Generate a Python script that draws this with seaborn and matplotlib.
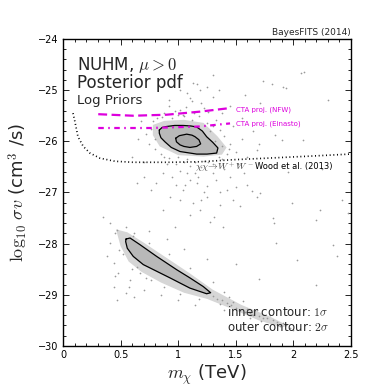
import matplotlib
matplotlib.use("Agg")
import matplotlib.pyplot as plt
from matplotlib.ticker import MultipleLocator
import pandas as pd
import seaborn as sns

# ---- data (x = m_chi in TeV, y = log10 sigma v) ----

# 2 sigma (outer) and 1 sigma (inner) contours, upper island
outer_up = [(0.836, -25.78), (0.860, -25.73), (0.900, -25.71), (0.970, -25.69),
            (1.042, -25.69), (1.110, -25.70), (1.161, -25.72), (1.210, -25.80),
            (1.247, -25.91), (1.300, -26.02), (1.345, -26.13), (1.334, -26.23),
            (1.250, -26.25), (1.161, -26.25), (1.016, -26.20), (0.940, -26.12),
            (0.885, -26.01), (0.850, -25.93), (0.836, -25.84)]
inner_up = [(0.978, -25.94), (1.010, -25.89), (1.074, -25.86), (1.120, -25.88),
            (1.146, -25.91), (1.180, -25.97), (1.195, -26.05), (1.160, -26.10),
            (1.102, -26.12), (1.050, -26.10), (1.016, -26.07), (0.985, -26.01)]

# 2 sigma contour, lower island
outer_low = [(0.547, -27.91), (0.582, -27.89), (0.668, -28.02), (0.813, -28.25),
             (0.987, -28.51), (1.102, -28.67), (1.218, -28.84), (1.282, -28.96),
             (1.247, -28.98), (1.102, -28.87), (0.929, -28.67), (0.813, -28.54),
             (0.697, -28.41), (0.610, -28.25), (0.558, -28.09), (0.544, -27.96)]

# dense parts of the scan cloud
dense_up = [(0.78, -25.68), (0.88, -25.60), (1.05, -25.58), (1.22, -25.64),
            (1.34, -25.90), (1.42, -26.12), (1.38, -26.26), (1.22, -26.30),
            (1.00, -26.27), (0.84, -26.10), (0.78, -25.88)]
dense_low = [(0.46, -27.72), (0.56, -27.78), (0.70, -27.98), (0.90, -28.28),
             (1.10, -28.58), (1.30, -28.90), (1.55, -29.20), (1.80, -29.43),
             (1.95, -29.60), (1.90, -29.64), (1.70, -29.50), (1.45, -29.26),
             (1.25, -29.08), (1.05, -28.96), (0.85, -28.76), (0.68, -28.55),
             (0.57, -28.35), (0.50, -28.05)]

# sparse scan points
upper_pts = [(1.16, -24.87), (1.25, -24.93), (1.35, -25.00), (1.30, -25.13), (1.10, -25.15),
             (1.20, -25.26), (1.07, -25.32), (1.02, -25.39), (1.26, -25.42), (1.04, -25.48),
             (2.09, -24.64), (1.94, -24.96), (1.30, -24.70), (1.13, -24.86), (1.02, -25.00),
             (1.19, -25.00), (2.07, -24.66), (1.74, -24.83), (1.81, -24.87), (1.91, -24.93),
             (1.71, -25.25), (1.84, -25.88), (1.90, -25.97), (2.08, -25.97), (1.68, -26.17),
             (1.64, -26.98), (1.71, -27.01), (1.99, -27.21), (2.42, -27.14), (1.83, -27.60),
             (2.20, -27.53), (2.47, -27.40), (0.64, -26.82), (0.70, -26.69), (0.87, -26.62),
             (1.02, -26.59), (1.10, -26.75), (1.04, -26.95), (1.16, -26.82), (1.25, -26.88),
             (1.33, -26.75), (1.45, -26.69), (1.57, -26.62), (1.02, -27.14), (1.13, -27.21),
             (1.25, -27.08), (1.36, -27.24), (1.48, -27.14), (1.31, -27.47), (1.28, -27.57),
             (1.54, -27.27), (1.68, -27.08), (0.93, -27.08), (0.81, -26.82), (0.76, -26.95),
             (0.87, -27.34), (1.19, -27.34), (1.39, -27.67), (0.97, -27.67), (0.72, -25.85),
             (0.75, -26.05), (0.78, -25.60), (0.80, -26.15), (0.82, -25.55), (0.85, -26.25),
             (0.88, -25.45), (0.92, -26.32), (0.95, -25.55), (0.97, -25.40), (1.00, -26.30),
             (1.05, -25.50), (1.08, -26.35), (1.12, -25.58), (1.15, -26.40), (1.18, -25.50),
             (1.22, -26.38), (1.25, -25.65), (1.28, -25.80), (1.32, -26.00), (1.38, -26.10),
             (1.40, -25.90), (1.42, -26.25), (1.45, -26.05), (1.50, -26.20), (1.48, -25.70),
             (1.55, -25.95), (1.60, -26.30), (1.35, -26.30), (1.30, -26.45), (1.20, -26.50),
             (1.10, -26.48), (0.98, -26.45), (0.90, -26.45), (0.65, -25.95), (0.68, -25.60),
             (1.55, -25.55), (1.65, -25.80), (1.70, -26.05), (1.12, -25.22), (1.22, -25.35),
             (0.92, -25.30), (1.38, -25.45), (1.45, -25.30), (1.33, -25.58), (1.52, -26.45),
             (1.40, -26.55), (1.15, -26.62), (0.95, -26.70), (1.22, -27.00), (1.42, -26.95),
             (1.06, -26.85), (1.60, -26.85), (0.60, -26.30), (0.70, -26.40), (2.25, -26.55),
             (1.95, -26.60), (2.30, -25.20), (1.58, -25.10), (0.76, -25.75), (0.80, -25.95),
             (0.86, -25.52), (1.00, -25.48), (1.14, -25.44), (1.30, -25.70), (1.36, -25.78),
             (1.44, -26.16), (1.38, -26.35), (1.26, -26.40), (1.05, -26.40), (0.88, -26.30),
             (1.17, -26.70), (1.30, -26.62), (1.08, -26.62), (0.98, -26.85), (1.36, -27.00),
             (1.50, -26.90), (1.20, -27.15), (1.10, -27.45), (0.92, -25.20), (1.08, -25.05)]

lower_pts = [(0.41, -27.99), (0.45, -27.80), (0.49, -28.12), (0.38, -28.25), (0.44, -28.38),
             (0.48, -28.58), (0.45, -28.64), (0.44, -28.84), (0.47, -29.10), (0.57, -28.84),
             (0.55, -28.97), (0.58, -28.71), (0.67, -28.58), (0.76, -28.71), (0.64, -28.45),
             (0.35, -27.47), (0.41, -27.60), (0.47, -27.73), (0.55, -27.67), (0.61, -27.86),
             (1.30, -29.03), (1.34, -29.08), (1.38, -29.10), (1.42, -29.16), (1.46, -29.20),
             (1.50, -29.25), (1.54, -29.29), (1.58, -29.33), (1.62, -29.36), (1.65, -29.39),
             (1.70, -29.42), (1.74, -29.46), (1.77, -29.46), (1.82, -29.50), (1.86, -29.54),
             (1.91, -29.55), (1.94, -29.60), (1.97, -29.65), (1.36, -29.18), (1.48, -29.14),
             (1.60, -29.28), (1.72, -29.52), (1.88, -29.62), (1.44, -29.05), (2.38, -28.25),
             (2.03, -28.32), (1.82, -27.50), (2.23, -27.34), (1.85, -27.99), (2.34, -28.02),
             (1.50, -28.40), (1.70, -28.70), (2.20, -28.80), (1.05, -28.10), (0.90, -27.90),
             (1.25, -28.30), (0.75, -27.75), (0.70, -28.90), (0.85, -29.00), (1.00, -29.10),
             (0.62, -29.05), (1.15, -29.20), (0.52, -28.20), (0.60, -28.50), (0.72, -28.68),
             (0.88, -28.85), (1.02, -28.98), (1.18, -29.08), (0.62, -27.80), (0.75, -27.98),
             (0.92, -28.20), (1.10, -28.48), (1.30, -28.75), (1.40, -28.95), (1.56, -29.12),
             (1.68, -29.30), (1.80, -29.40), (2.00, -29.68), (1.40, -29.30), (1.62, -29.45)]

# reference lines
wood_x = [0.087, 0.104, 0.130, 0.176, 0.234, 0.321, 0.451, 0.608, 0.929, 1.189,
          1.476, 1.768, 2.144, 2.491]
wood_y = [-25.45, -25.62, -25.91, -26.10, -26.23, -26.33, -26.39, -26.41, -26.41,
          -26.40, -26.36, -26.33, -26.29, -26.25]
nfw_x = [0.306, 0.610, 0.900, 1.189, 1.450]
nfw_y = [-25.47, -25.50, -25.48, -25.42, -25.35]
ein_x = [0.306, 0.755, 1.189, 1.450]
ein_y = [-25.74, -25.74, -25.71, -25.65]

x_ticks = [0, 0.5, 1, 1.5, 2, 2.5]
x_ticklabels = ["0", "0.5", "1", "1.5", "2", "2.5"]
y_ticks = [-30, -29, -28, -27, -26, -25, -24]

# ---- style ----
sns.set_style("ticks")
plt.rcParams["font.family"] = ["DejaVu Sans"]
plt.rcParams["mathtext.fontset"] = "cm"
plt.rcParams["xtick.direction"] = "in"
plt.rcParams["ytick.direction"] = "in"

fig = plt.figure(figsize=(3.9, 3.9), dpi=100)
ax = fig.add_axes([0.1615, 0.113, 0.7385, 0.787])

pts = pd.DataFrame(upper_pts + lower_pts, columns=["m", "sv"])

# dense cloud, then the scatter points on top
for poly in (dense_up, dense_low):
    px, py = zip(*poly)
    ax.fill(px, py, color="#d6d6d6", lw=0, zorder=1)
for poly in (outer_up, outer_low):
    px, py = zip(*poly)
    ax.fill(px, py, color="#b8b8b8", lw=0, zorder=1.5)
px, py = zip(*inner_up)
ax.fill(px, py, color="#a8a8a8", lw=0, zorder=1.6)
sns.scatterplot(data=pts, x="m", y="sv", s=1.5, color="#9a9a9a", linewidth=0,
                ax=ax, zorder=2)

# contours
for poly in (outer_up, inner_up, outer_low):
    px, py = zip(*poly)
    px = list(px) + [px[0]]
    py = list(py) + [py[0]]
    ax.plot(px, py, color="black", lw=0.9, zorder=3)

# limits / projections
sns.lineplot(x=wood_x, y=wood_y, sort=False, color="black", lw=1.2,
             linestyle=(0, (0.6, 1.6)), ax=ax, zorder=4)
sns.lineplot(x=nfw_x, y=nfw_y, sort=False, color="#dd00dd", lw=1.6,
             linestyle=(0, (4, 2)), ax=ax, zorder=4)
sns.lineplot(x=ein_x, y=ein_y, sort=False, color="#dd00dd", lw=1.6,
             linestyle=(0, (2.5, 2, 0.7, 2)), ax=ax, zorder=4)

ax.text(1.50, -25.39, "CTA proj. (NFW)", color="#dd00dd", fontsize=5, va="center")
ax.text(1.50, -25.66, "CTA proj. (Einasto)", color="#dd00dd", fontsize=5, va="center")
ax.text(1.146, -26.50, r"$\chi\chi\!\rightarrow\!W^+W^-$", color="#444444",
        fontsize=7, va="center")
ax.text(1.667, -26.49, "Wood et al. (2013)", color="black", fontsize=6, va="center")

ax.text(0.12, -24.51, r"NUHM, $\mu>0$", fontsize=12, va="center")
ax.text(0.12, -24.86, "Posterior pdf", fontsize=12, va="center")
ax.text(0.12, -25.21, "Log Priors", fontsize=9.5, va="center")
ax.text(1.424, -29.33, r"inner contour: $1\sigma$", fontsize=8.5, va="center")
ax.text(1.424, -29.63, r"outer contour: $2\sigma$", fontsize=8.5, va="center")
ax.text(1.0, 1.008, "BayesFITS (2014)", transform=ax.transAxes, ha="right",
        va="bottom", fontsize=6.5)

ax.set_xlim(0, 2.5)
ax.set_ylim(-30, -24)
ax.set_xticks(x_ticks)
ax.set_xticklabels(x_ticklabels)
ax.set_yticks(y_ticks)
ax.xaxis.set_minor_locator(MultipleLocator(0.1))
ax.yaxis.set_minor_locator(MultipleLocator(0.2))
ax.tick_params(which="both", direction="in", top=True, right=True,
               labelsize=7, colors="black", width=0.6)
ax.tick_params(which="major", length=4, pad=3)
ax.tick_params(which="minor", length=2)
for sp in ax.spines.values():
    sp.set_visible(True)
    sp.set_linewidth(1.0)
    sp.set_color("black")

ax.set_xlabel(r"$m_\chi$ (TeV)", fontsize=13, labelpad=2)
ax.set_ylabel(r"$\log_{10}\,\sigma v$ (cm$^3$ /s)", fontsize=13, labelpad=6)

fig.savefig("out.png", dpi=100)
